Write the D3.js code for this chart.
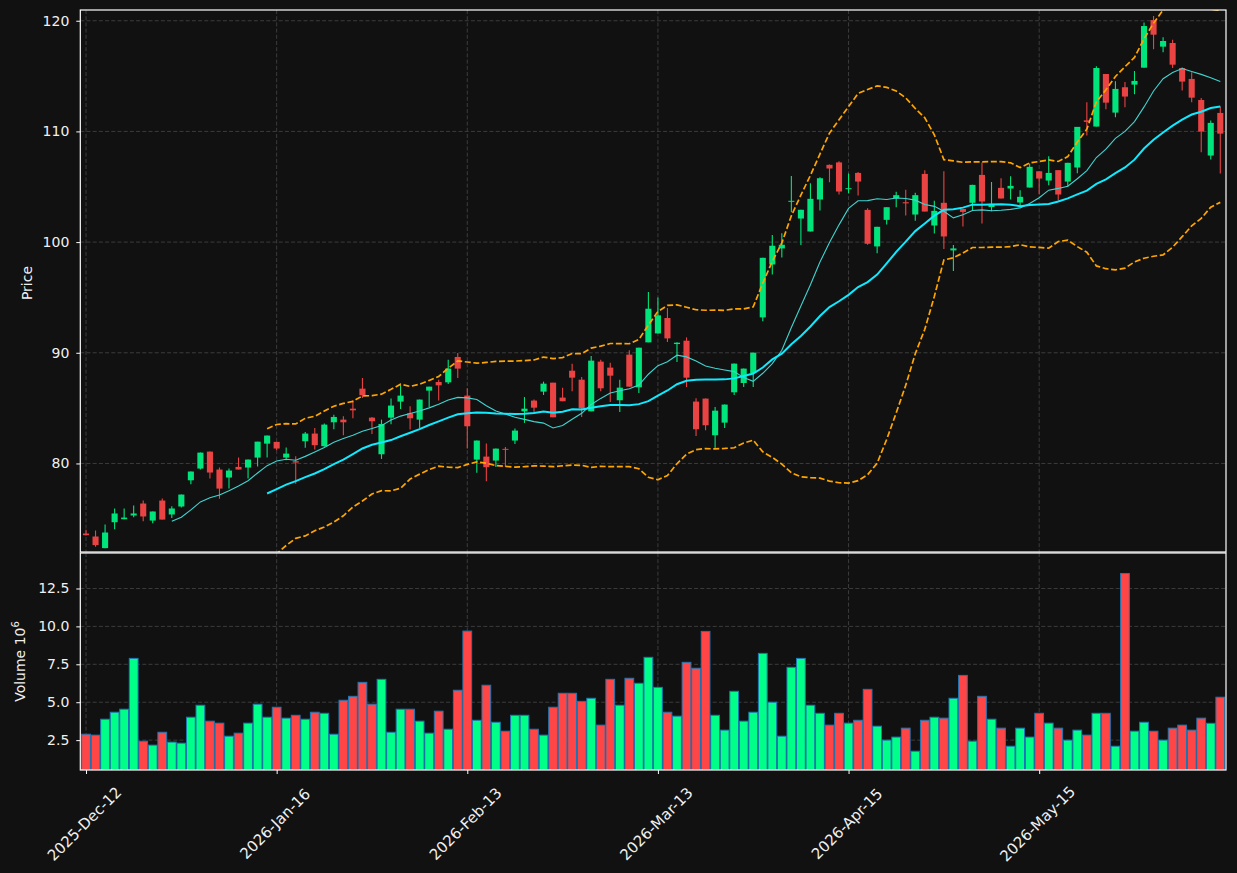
<!DOCTYPE html>
<html><head><meta charset="utf-8">
<script src="https://cdn.jsdelivr.net/npm/d3@7/dist/d3.min.js"></script>
<style>body{margin:0;background:#111111;} svg{display:block;font-family:"DejaVu Sans",sans-serif;}</style>
</head><body><svg id="chart" width="1237" height="873"></svg>
<script>
const opens = [73.67,73.40,72.35,74.69,74.96,75.30,76.38,74.84,76.65,75.39,
76.11,78.48,79.54,81.07,79.45,78.73,79.69,79.63,80.53,81.79,
81.95,80.53,80.20,82.01,82.70,81.56,83.72,83.96,84.95,86.76,
84.14,80.83,84.14,85.59,84.53,83.96,86.58,87.36,87.33,89.62,
86.13,80.35,80.62,80.26,81.32,82.07,84.71,85.68,86.49,87.30,
85.95,88.38,87.57,84.71,89.20,88.66,85.71,89.83,86.88,90.94,
91.75,93.14,90.79,91.09,85.59,85.86,82.55,83.69,86.43,87.27,
88.17,93.20,97.98,99.43,103.68,102.13,100.96,103.85,106.98,107.2,
104.78,106.25,102.91,99.61,102.01,103.97,103.60,102.49,106.16,101.50,
103.55,99.25,103.0,103.55,106.07,103.16,104.90,104.84,103.58,104.93,
106.40,105.56,106.50,105.47,106.74,111.0,110.44,115.19,111.70,113.99,
114.23,115.76,120.06,117.66,117.99,115.73,114.74,112.84,107.82,111.67];
const highs = [74.0,73.94,74.48,75.93,75.93,76.2,76.65,75.66,76.83,76.14,
77.19,79.27,80.98,81.07,79.63,79.54,80.53,80.35,81.97,82.52,
81.95,81.44,80.65,82.85,83.21,83.6,84.41,84.26,85.70,87.72,
84.2,83.96,85.86,87.12,85.17,85.77,86.94,87.57,89.38,89.98,
86.79,82.07,81.80,81.34,81.49,83.15,86.0,85.77,87.39,87.30,
86.85,89.01,87.81,89.71,89.38,89.11,87.57,90.22,90.46,95.48,
95.0,94.04,90.95,91.39,85.89,85.86,85.11,85.32,89.02,88.57,
90.01,98.58,100.63,100.81,105.98,102.92,105.32,105.86,107.0,107.3,
106.2,106.34,103.06,101.38,103.15,104.54,104.72,104.45,106.50,103.73,
106.40,99.73,103.0,105.17,107.19,105.44,105.77,105.95,104.69,107.1,
106.40,107.76,106.50,107.16,110.41,112.63,115.88,115.19,114.53,114.47,
115.46,119.85,120.42,118.5,118.29,115.8,115.34,113.02,110.98,112.24];
const lows = [73.5,72.47,72.35,74.06,74.96,75.14,74.78,74.6,74.93,75.08,
76.02,78.12,79.45,78.64,76.8,77.73,79.45,78.64,79.72,80.53,
81.19,80.29,78.16,81.41,81.25,81.5,83.09,82.55,84.08,85.92,
82.67,80.41,83.54,84.93,83.06,83.21,85.11,85.68,87.18,87.72,
81.34,79.15,78.4,79.69,79.69,81.76,83.66,84.47,86.19,84.17,
85.62,86.52,84.20,84.71,86.52,85.56,84.65,86.94,86.37,90.94,
91.75,90.97,89.17,86.91,82.49,83.0,81.4,83.21,86.19,86.91,
86.91,92.84,97.08,98.61,102.70,99.73,100.96,102.86,105.41,104.3,
104.42,104.21,99.76,99.0,101.59,103.15,102.40,101.92,102.76,100.78,
99.37,97.38,101.41,102.91,101.68,102.79,103.94,103.85,103.15,104.93,
104.3,105.14,103.76,104.99,106.22,109.63,110.44,112.0,111.28,112.18,
113.35,115.76,117.42,117.15,115.73,113.69,112.63,108.12,107.46,106.2];
const closes = [73.52,72.62,73.76,75.48,75.11,75.48,75.21,75.66,74.93,75.93,
77.19,79.27,80.98,79.18,77.73,79.36,79.45,80.35,81.97,82.52,
81.35,80.89,80.08,82.70,81.65,83.51,84.20,83.72,84.80,86.16,
83.81,83.57,85.23,86.13,84.08,85.77,86.94,87.06,88.57,88.57,
83.36,82.07,79.66,81.34,81.26,82.97,84.95,85.04,87.21,84.17,
85.62,87.75,84.98,89.29,86.79,87.93,86.85,86.94,90.46,93.98,
93.38,91.30,90.91,87.75,83.09,83.45,84.77,85.32,89.02,88.57,
90.01,98.58,99.67,99.76,103.73,102.92,103.91,105.77,106.65,104.57,
104.87,105.47,99.85,101.38,103.15,104.24,103.50,104.24,102.76,102.82,
100.51,99.43,102.73,105.17,103.67,103.46,103.94,105.08,104.09,106.80,
105.74,106.25,104.30,107.16,110.41,110.86,115.73,112.60,113.84,113.15,
114.56,119.52,118.74,118.17,116.03,114.50,113.05,109.99,110.77,109.80];
const volumes = [2.89,2.83,3.88,4.34,4.54,7.89,2.43,2.17,3.02,2.37,
2.30,4.01,4.80,3.75,3.62,2.76,2.96,3.62,4.87,4.01,
4.67,3.95,4.14,3.88,4.34,4.27,2.89,5.13,5.39,6.31,
4.87,6.51,3.02,4.54,4.54,3.75,2.96,4.41,3.22,5.79,
9.69,3.81,6.12,3.68,3.09,4.14,4.14,3.22,2.83,4.67,
5.59,5.59,5.06,5.26,3.49,6.51,4.80,6.58,6.25,7.96,
5.98,4.34,4.08,7.63,7.24,9.67,4.14,3.16,5.72,3.75,
4.34,8.22,5.0,2.76,7.30,7.89,4.80,4.27,3.49,4.27,
3.62,3.81,5.85,3.42,2.50,2.70,3.29,1.77,3.81,4.01,
3.95,5.26,6.77,2.43,5.39,3.88,3.29,2.10,3.29,2.70,
4.27,3.62,3.29,2.50,3.16,2.83,4.27,4.27,2.10,13.49,
3.09,3.68,3.09,2.50,3.29,3.49,3.16,3.95,3.61,5.33];
const tickIndex = [0,20,40,60,80,100];
const tickLabels = ["2025-Dec-12","2026-Jan-16","2026-Feb-13","2026-Mar-13","2026-Apr-15","2026-May-15"];
const priceTicks = [80,90,100,110,120];
const volumeTicks = [2.5,5.0,7.5,10.0,12.5];
const maShort = 10, maLong = 20, bbStd = 2;

const svg = d3.select("#chart");
const L = 80.3, R = 1226, PT = 10, PB = 552, VT = 553, VB = 770;
const n = closes.length;
const x = d3.scaleLinear().domain([-0.6, n - 1 + 0.6]).range([L, R]);
const y = d3.scaleLinear().domain([72.0, 120.97]).range([PB, PT]);
const vy = d3.scaleLinear().domain([0.3 * d3.min(volumes), 1.1 * d3.max(volumes)]).range([VB, VT]);
const step = x(1) - x(0);

const upC = "#00e47c", dnC = "#ea4343", upV = "#00ff88", dnV = "#ff4545";
const gridC = "#3c3c3c";

const defs = svg.append("defs");
defs.append("clipPath").attr("id","pc").append("rect").attr("x",L).attr("y",PT).attr("width",R-L).attr("height",PB-PT);
defs.append("clipPath").attr("id","vc").append("rect").attr("x",L).attr("y",VT).attr("width",R-L).attr("height",VB-VT);

// grids
const g = svg.append("g");
function vgrid(top, bottom){
  g.selectAll(null).data(tickIndex).enter().append("line")
    .attr("x1",d=>x(d)).attr("x2",d=>x(d)).attr("y1",top).attr("y2",bottom)
    .attr("stroke",gridC).attr("stroke-width",1).attr("stroke-dasharray","4,2.2");
}
vgrid(PT,PB); vgrid(VT,VB);
g.selectAll(null).data(priceTicks).enter().append("line")
  .attr("x1",L).attr("x2",R).attr("y1",d=>y(d)).attr("y2",d=>y(d))
  .attr("stroke",gridC).attr("stroke-width",1).attr("stroke-dasharray","4,2.2");
g.selectAll(null).data(volumeTicks).enter().append("line")
  .attr("x1",L).attr("x2",R).attr("y1",d=>vy(d)).attr("y2",d=>vy(d))
  .attr("stroke",gridC).attr("stroke-width",1).attr("stroke-dasharray","4,2.2");

const idx = d3.range(n);

// volume bars
const vg = svg.append("g").attr("clip-path","url(#vc)");
vg.selectAll("rect").data(idx).enter().append("rect")
  .attr("x", i => x(i) - step*0.46).attr("width", step*0.92)
  .attr("y", i => vy(volumes[i])).attr("height", i => VB - vy(volumes[i]) + 2)
  .attr("fill", i => closes[i] >= opens[i] ? upV : dnV)
  .attr("stroke","#1f77b4").attr("stroke-width",1);

// candles
const cg = svg.append("g").attr("clip-path","url(#pc)");
cg.selectAll("line.w").data(idx).enter().append("line").attr("class","w")
  .attr("x1", i => x(i)).attr("x2", i => x(i))
  .attr("y1", i => y(highs[i])).attr("y2", i => y(lows[i]))
  .attr("stroke", i => closes[i] >= opens[i] ? upC : dnC).attr("stroke-width",1.1);
const bw = step * 0.64;
cg.selectAll("rect").data(idx).enter().append("rect")
  .attr("x", i => x(i) - bw/2).attr("width", bw)
  .attr("y", i => y(Math.max(opens[i], closes[i])))
  .attr("height", i => Math.max(1, Math.abs(y(opens[i]) - y(closes[i]))))
  .attr("fill", i => closes[i] >= opens[i] ? upC : dnC);

// indicators
function rolling(w){
  return idx.map(i => i < w-1 ? null : d3.mean(closes.slice(i-w+1, i+1)));
}
const ma10 = rolling(maShort), ma20 = rolling(maLong);
const sd20 = idx.map(i => i < maLong-1 ? null : d3.deviation(closes.slice(i-maLong+1, i+1)));
const bbUp = idx.map(i => ma20[i] == null ? null : ma20[i] + bbStd*sd20[i]);
const bbLo = idx.map(i => ma20[i] == null ? null : ma20[i] - bbStd*sd20[i]);
function line(arr){
  return d3.line().defined(i => arr[i] != null).x(i => x(i)).y(i => y(arr[i]))(idx);
}
cg.append("path").attr("d", line(bbUp)).attr("fill","none").attr("stroke","#ffa500").attr("stroke-width",1.7).attr("stroke-dasharray","6,2.6");
cg.append("path").attr("d", line(bbLo)).attr("fill","none").attr("stroke","#ffa500").attr("stroke-width",1.7).attr("stroke-dasharray","6,2.6");
cg.append("path").attr("d", line(ma10)).attr("fill","none").attr("stroke","#40d4d0").attr("stroke-width",1.1);
cg.append("path").attr("d", line(ma20)).attr("fill","none").attr("stroke","#10eaff").attr("stroke-width",2);

// frames
svg.append("rect").attr("x",L).attr("y",PT).attr("width",R-L).attr("height",PB-PT).attr("fill","none").attr("stroke","#ffffff").attr("stroke-width",1.2);
svg.append("rect").attr("x",L).attr("y",VT).attr("width",R-L).attr("height",VB-VT).attr("fill","none").attr("stroke","#ffffff").attr("stroke-width",1.2);

// axes
const txtC = "#f0f0f0";
function styleAxis(sel){
  sel.select(".domain").remove();
  sel.selectAll(".tick line").attr("stroke","#ffffff").attr("stroke-width",1);
  sel.selectAll(".tick text").attr("fill",txtC).style("font-size","14px").style("font-family","DejaVu Sans");
}
svg.append("g").attr("transform",`translate(${L},0)`)
  .call(d3.axisLeft(y).tickValues(priceTicks).tickFormat(d3.format("d")).tickSize(4).tickPadding(7))
  .call(styleAxis);
svg.append("g").attr("transform",`translate(${L},0)`)
  .call(d3.axisLeft(vy).tickValues(volumeTicks).tickFormat(d3.format(".1f")).tickSize(4).tickPadding(7))
  .call(styleAxis);
const xa = svg.append("g").attr("transform",`translate(0,${VB})`)
  .call(d3.axisBottom(x).tickValues(tickIndex).tickFormat((d,k)=>tickLabels[k]).tickSize(4))
  .call(styleAxis);
xa.selectAll(".tick text")
  .style("font-size","15px")
  .attr("text-anchor","middle").attr("dy",null).attr("y",null)
  .attr("dominant-baseline","central")
  .attr("transform","translate(-2,54) rotate(-45)");

// labels
svg.append("text").attr("transform",`translate(32,${(PT+PB)/2+2}) rotate(-90)`)
  .attr("text-anchor","middle").attr("fill",txtC).style("font-size","14px").text("Price");
const vl = svg.append("text").attr("transform",`translate(25,${(VT+VB)/2}) rotate(-90)`)
  .attr("text-anchor","middle").attr("fill",txtC).style("font-size","14px");
vl.append("tspan").text("Volume  10");
vl.append("tspan").attr("dy",-6).style("font-size","10px").text("6");
</script></body></html>
